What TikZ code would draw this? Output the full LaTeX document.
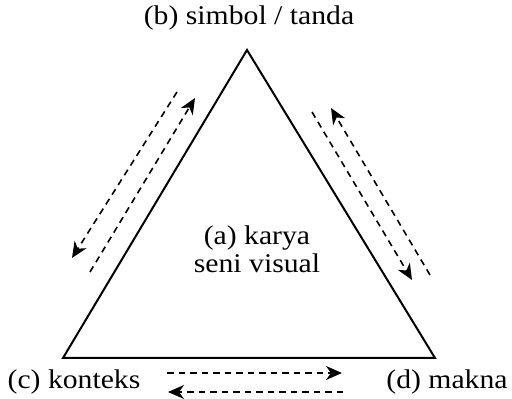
\documentclass[tikz,border=0pt]{standalone}
\usepackage{fontspec}
\setmainfont{Liberation Serif}
\usetikzlibrary{arrows.meta}
\tikzset{
  lbl/.style={draw=none,inner sep=0pt,xscale=1.1,font=\fontsize{27bp}{28bp}\selectfont},
  panah/.style={black,line width=1.6bp,dash pattern=on 6.5bp off 5bp,->},
}
\begin{document}
\begin{tikzpicture}[>={Stealth[length=16bp,width=14bp,inset=5bp]},line join=miter,]
\useasboundingbox (0bp,0bp) rectangle (512bp,399bp);
%%
\coordinate (puncak) at (247bp,349bp);
  \coordinate (kiri) at (63bp,41bp);
  \coordinate (kanan) at (435bp,41bp);
  \node (simbol) at (249bp,381bp) [lbl] {(b) simbol / tanda};
  \node (karya) at (257bp,150bp) [lbl,align=center] {(a) karya\\seni visual};
  \node (konteks) at (74bp,17bp) [lbl] {(c) konteks};
  \node (makna) at (447bp,17bp) [lbl] {(d) makna};
%
  \coordinate (kiri-luar-a) at (177bp,307bp);
  \coordinate (kiri-luar-b) at (72bp,141bp);
  \coordinate (kiri-dalam-a) at (90bp,127bp);
  \coordinate (kiri-dalam-b) at (195bp,301bp);
  \coordinate (kanan-dalam-a) at (312bp,287bp);
  \coordinate (kanan-dalam-b) at (412bp,119bp);
  \coordinate (kanan-luar-a) at (430bp,124bp);
  \coordinate (kanan-luar-b) at (331bp,291bp);
  \coordinate (bawah-atas-a) at (167bp,26bp);
  \coordinate (bawah-atas-b) at (342bp,26bp);
  \coordinate (bawah-bawah-a) at (343bp,7bp);
  \coordinate (bawah-bawah-b) at (168bp,7bp);
%
  \draw [black,line width=2bp] (puncak) -- (kiri) -- (kanan) -- cycle;
  \draw [panah] (kiri-luar-a) -- (kiri-luar-b);
  \draw [panah] (kiri-dalam-a) -- (kiri-dalam-b);
  \draw [panah] (kanan-dalam-a) -- (kanan-dalam-b);
  \draw [panah] (kanan-luar-a) -- (kanan-luar-b);
  \draw [panah] (bawah-atas-a) -- (bawah-atas-b);
  \draw [panah] (bawah-bawah-a) -- (bawah-bawah-b);
%
\end{tikzpicture}
\end{document}
